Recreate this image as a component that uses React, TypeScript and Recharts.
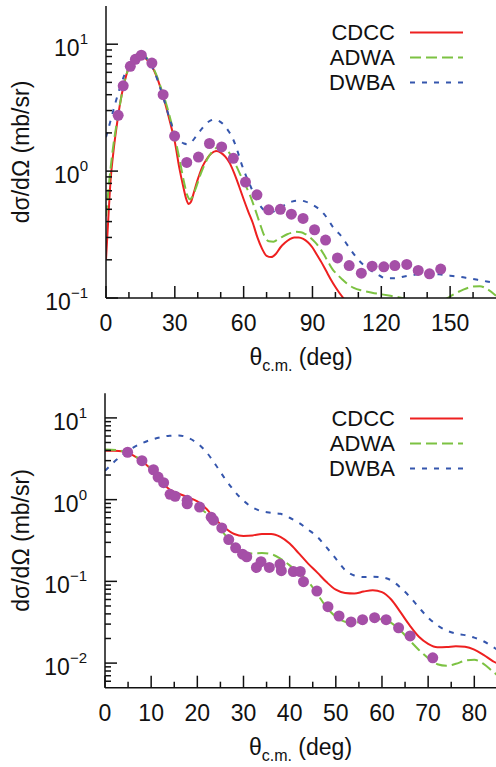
import React from "react";
import { ComposedChart, Line, Scatter, XAxis, YAxis, Legend } from "recharts";

// ---------- data ----------
const seriesNames = ["CDCC", "ADWA", "DWBA"];
const seriesColors = ["#ee2020", "#7cc242", "#3556ad"];
const seriesDash = ["", "11 5", "5 7"];

const topXTicks = [0, 10, 20, 30, 40, 50, 60, 70, 80, 90, 100, 110, 120, 130, 140, 150, 160];
const topXMajor = [0, 30, 60, 90, 120, 150];
const botXTicks = [0, 5, 10, 15, 20, 25, 30, 35, 40, 45, 50, 55, 60, 65, 70, 75, 80];
const botXMajor = [0, 10, 20, 30, 40, 50, 60, 70, 80];
const topYTicks = [0.1, 0.2, 0.3, 0.4, 0.5, 0.6, 0.7, 0.8, 0.9, 1, 2, 3, 4, 5, 6, 7, 8, 9, 10];
const botYTicks = [0.006, 0.007, 0.008, 0.009, 0.01, 0.02, 0.03, 0.04, 0.05, 0.06, 0.07, 0.08, 0.09, 0.1, 0.2, 0.3, 0.4, 0.5, 0.6, 0.7, 0.8, 0.9, 1, 2, 3, 4, 5, 6, 7, 8, 9, 10];

const topExpt = [
  [5.3, 2.75], [7.5, 4.7], [10.6, 6.7], [12.8, 7.6], [15.4, 8.2], [20, 7.1], [24.9, 4.0], [29.9, 1.89],
  [35.2, 1.17], [40.3, 1.29], [45.1, 1.65], [50.4, 1.55], [55.5, 1.26], [60.8, 0.82], [65.8, 0.65],
  [70.9, 0.495], [76, 0.5], [80.8, 0.458], [85.9, 0.424], [90.9, 0.345], [95.7, 0.286], [100.9, 0.207],
  [106, 0.18], [111.3, 0.157], [116, 0.178], [121.1, 0.176], [125.9, 0.18], [131.1, 0.184], [136.1, 0.165],
  [141, 0.155], [145.9, 0.169],
];

const topCDCC = [
  [0, 0.2], [1, 0.42], [2, 0.85], [3, 1.3], [4, 1.85], [5, 2.5], [6, 3.3], [8, 5.0], [10, 6.6], [12, 7.7],
  [14, 8.3], [16, 8.1], [18, 7.5], [20, 6.7], [22, 5.6], [24, 4.4], [26, 3.3], [28, 2.4], [30, 1.7],
  [32, 1.05], [33.5, 0.78], [35, 0.6], [36, 0.55], [37, 0.57], [38, 0.65], [40, 0.86], [42, 1.08],
  [44, 1.25], [46, 1.38], [48, 1.44], [50, 1.4], [52, 1.3], [54, 1.15], [56, 0.95], [58, 0.76], [60, 0.6],
  [62, 0.48], [64, 0.39], [66, 0.3], [68, 0.245], [70, 0.215], [72, 0.21], [74, 0.222], [76, 0.25],
  [78, 0.272], [80, 0.29], [82, 0.3], [84, 0.3], [86, 0.292], [88, 0.275], [90, 0.25], [92, 0.218],
  [94, 0.19], [96, 0.163], [98, 0.14], [100, 0.122], [102, 0.108], [104, 0.097], [106, 0.087],
];

const topADWA = [
  [0, 0.44], [1, 0.7], [2, 1.05], [3, 1.5], [4, 2.0], [5, 2.6], [6, 3.3], [8, 5.0], [10, 6.6], [12, 7.8],
  [14, 8.4], [16, 8.3], [18, 7.7], [20, 6.8], [22, 5.7], [24, 4.5], [26, 3.5], [28, 2.6], [30, 1.85],
  [32, 1.25], [34, 0.82], [35.5, 0.64], [36.5, 0.6], [37.5, 0.62], [39, 0.72], [41, 0.92], [43, 1.13],
  [45, 1.32], [47, 1.47], [49, 1.55], [51, 1.55], [53, 1.45], [55, 1.28], [57, 1.08], [59, 0.9],
  [61, 0.76], [63, 0.63], [65, 0.5], [67, 0.39], [69, 0.31], [71, 0.28], [73, 0.278], [75, 0.29],
  [77, 0.305], [79, 0.318], [81, 0.327], [83, 0.332], [85, 0.33], [87, 0.318], [89, 0.3], [91, 0.277],
  [93, 0.25], [95, 0.22], [97, 0.19], [99, 0.166], [101, 0.152], [103, 0.14], [105, 0.13], [108, 0.12],
  [112, 0.114], [116, 0.11], [120, 0.107], [124, 0.104], [128, 0.101], [132, 0.097], [136, 0.093],
  [140, 0.09], [144, 0.091], [148, 0.098], [152, 0.108], [156, 0.117], [160, 0.123], [163, 0.124],
  [166, 0.118], [170, 0.104],
];

const topDWBA = [
  [0, 1.85], [2, 2.5], [4, 3.4], [6, 4.5], [8, 5.7], [10, 6.9], [12, 7.8], [14, 8.3], [16, 8.2], [18, 7.6],
  [20, 6.7], [22, 5.5], [24, 4.3], [26, 3.3], [28, 2.5], [30, 2.0], [32, 1.75], [34, 1.65], [35.5, 1.63],
  [37, 1.68], [39, 1.85], [41, 2.07], [43, 2.3], [45, 2.47], [47, 2.55], [49, 2.5], [51, 2.35], [53, 2.12],
  [55, 1.85], [57, 1.5], [59, 1.15], [61, 0.92], [63, 0.76], [65, 0.63], [67, 0.54], [69, 0.49], [71, 0.47],
  [73, 0.48], [75, 0.5], [77, 0.53], [79, 0.555], [81, 0.575], [83, 0.585], [85, 0.585], [87, 0.575],
  [89, 0.555], [91, 0.53], [93, 0.5], [95, 0.46], [97, 0.41], [99, 0.36], [101, 0.33], [103, 0.3],
  [105, 0.265], [107, 0.235], [110, 0.2], [114, 0.172], [118, 0.155], [122, 0.143], [126, 0.143],
  [130, 0.148], [134, 0.152], [138, 0.155], [142, 0.155], [146, 0.153], [150, 0.15], [154, 0.147],
  [158, 0.143], [162, 0.139], [166, 0.135], [170, 0.131],
];

const botExpt = [
  [4.9, 3.8], [8, 3.0], [10.5, 2.32], [11.5, 1.89], [12.7, 1.61], [14.1, 1.16], [15.2, 1.1], [17.8, 0.98],
  [17.8, 0.89], [20.5, 0.81], [23, 0.61], [23.5, 0.56], [25.3, 0.45], [26.8, 0.325], [28.3, 0.257],
  [29.8, 0.215], [30.7, 0.2], [32.8, 0.148], [33.8, 0.174], [35.6, 0.148], [37.9, 0.162], [38.2, 0.135],
  [40.8, 0.132], [42.3, 0.132], [43, 0.099], [45.9, 0.076], [48.3, 0.049], [50.7, 0.0377], [53.3, 0.0319],
  [55.8, 0.034], [58.4, 0.036], [60.9, 0.034], [63.6, 0.027], [66.1, 0.0215], [71, 0.0116],
];

const botCDCC = [
  [0, 3.95], [2, 3.95], [4, 3.88], [6, 3.5], [8, 2.95], [10, 2.35], [12, 1.72], [14, 1.33], [16, 1.18],
  [18, 1.07], [20, 0.95], [22, 0.77], [24, 0.57], [26, 0.45], [28, 0.38], [30, 0.36], [32, 0.365],
  [34, 0.38], [36, 0.38], [38, 0.35], [40, 0.29], [42, 0.22], [44, 0.165], [46, 0.128], [48, 0.098],
  [50, 0.079], [52, 0.072], [54, 0.071], [56, 0.075], [58, 0.078], [60, 0.074], [62, 0.06], [64, 0.042],
  [66, 0.029], [68, 0.021], [70, 0.0172], [72, 0.0156], [74, 0.0157], [76, 0.0161], [78, 0.0158],
  [80, 0.0146], [82, 0.0126], [84, 0.0106], [85, 0.0099],
];

const botADWA = [
  [0, 4.1], [3, 4.0], [5, 3.7], [8, 3.0], [10, 2.38], [12, 1.72], [14, 1.27], [16, 1.06], [18, 0.93],
  [20, 0.82], [22, 0.68], [24, 0.52], [26, 0.37], [28, 0.265], [30, 0.228], [32, 0.22], [34, 0.222],
  [36, 0.215], [38, 0.19], [40, 0.157], [42, 0.127], [44, 0.1], [46, 0.07], [48, 0.048], [50, 0.037],
  [52, 0.032], [54, 0.031], [56, 0.033], [58, 0.0347], [60, 0.0345], [62, 0.031], [64, 0.025], [66, 0.019],
  [68, 0.0145], [70, 0.0115], [72, 0.0097], [74, 0.0093], [76, 0.0098], [78, 0.0107], [80, 0.011],
  [82, 0.0098], [84, 0.0079], [85, 0.0071],
];

const botDWBA = [
  [0, 2.25], [2, 2.9], [4, 3.6], [6, 4.3], [8, 4.9], [10, 5.4], [12, 5.8], [14, 6.05], [16, 6.1], [18, 5.7],
  [20, 4.9], [22, 3.8], [24, 2.65], [26, 1.8], [28, 1.28], [30, 0.97], [32, 0.8], [34, 0.72], [36, 0.69],
  [38, 0.67], [40, 0.6], [42, 0.52], [44, 0.43], [46, 0.35], [48, 0.26], [50, 0.19], [52, 0.138],
  [54, 0.118], [56, 0.113], [58, 0.114], [60, 0.112], [62, 0.103], [64, 0.084], [66, 0.065], [68, 0.048],
  [70, 0.036], [72, 0.029], [74, 0.025], [76, 0.023], [78, 0.022], [80, 0.0205], [82, 0.0185],
  [84, 0.0158], [85, 0.0146],
];

// ---------- helpers ----------
const FONT = '"Liberation Sans", Arial, Helvetica, sans-serif';
const INK = "#111";
const toObjs = (arr: number[][]) => arr.map(([x, y]) => ({ x, y }));

const isMajorLog = (v: number) => Math.abs(Math.log10(v) - Math.round(Math.log10(v))) < 1e-6;

const makeXTick = (majors: number[], top: boolean) => (props: any) => {
  const { x, y, payload } = props;
  const v = payload.value;
  const major = majors.includes(v);
  const len = major ? 12 : 6;
  return (
    <g>
      <line x1={x} x2={x} y1={y} y2={top ? y + len : y - len} stroke={INK} strokeWidth={1.5} />
      {!top && major && (
        <text x={x} y={y + 33} textAnchor="middle" fontSize={23} fontFamily={FONT} fill={INK}>
          {v}
        </text>
      )}
    </g>
  );
};

const makeYTick = (right: boolean) => (props: any) => {
  const { x, y, payload } = props;
  const v = payload.value;
  const major = isMajorLog(v);
  const len = major ? 12 : 6;
  const e = Math.round(Math.log10(v));
  const sup = e < 0 ? "\u2212" + Math.abs(e) : String(e);
  return (
    <g>
      <line x1={x} x2={right ? x - len : x + len} y1={y} y2={y} stroke={INK} strokeWidth={1.5} />
      {!right && major && (
        <text x={x - 18} y={y + 12} textAnchor="end" fontFamily={FONT} fill={INK}>
          <tspan fontSize={23}>10</tspan>
          <tspan fontSize={15} dy={-12}>{sup}</tspan>
        </text>
      )}
    </g>
  );
};

const XTitle = (props: any) => {
  const vb = props.viewBox || {};
  const cx = (vb.x ?? 0) + (vb.width ?? 0) / 2;
  const y = (vb.y ?? 0) + 67;
  return (
    <text x={cx} y={y} textAnchor="middle" fontFamily={FONT} fill={INK}>
      <tspan fontSize={23}>θ</tspan>
      <tspan fontSize={16} dy={6}>c.m.</tspan>
      <tspan fontSize={23} dy={-6}> (deg)</tspan>
    </text>
  );
};

const YTitle = (props: any) => {
  const vb = props.viewBox || {};
  const cy = (vb.y ?? 0) + (vb.height ?? 0) / 2;
  const x = 21;
  return (
    <text
      x={x}
      y={cy}
      transform={`rotate(-90 ${x} ${cy})`}
      textAnchor="middle"
      dominantBaseline="central"
      fontSize={23}
      fontFamily={FONT}
      fill={INK}
    >
      dσ/dΩ (mb/sr)
    </text>
  );
};

const makeLegend = (rowY: number[]) => () => (
  <svg width={496} height={110} style={{ display: "block" }}>
    {seriesNames.map((n, i) => (
      <g key={n}>
        <text x={395} y={rowY[i]} textAnchor="end" dominantBaseline="central" fontSize={22} fontFamily={FONT} fill={INK}>
          {n}
        </text>
        <line x1={410} x2={463} y1={rowY[i]} y2={rowY[i]} stroke={seriesColors[i]} strokeWidth={2} strokeDasharray={seriesDash[i] || undefined} />
      </g>
    ))}
  </svg>
);

const Dot = (p: any) => <circle cx={p.cx} cy={p.cy} r={5.5} fill="#a54fa7" />;

type PanelProps = {
  width: number;
  height: number;
  margin: { top: number; right: number; bottom: number; left: number };
  yAxisWidth: number;
  xAxisHeight: number;
  xDomain: [number, number];
  yDomain: [number, number];
  xTicks: number[];
  xMajor: number[];
  yTicks: number[];
  curves: number[][][];
  expt: number[][];
  legendRows: number[];
};

const Panel = (p: PanelProps) => (
  <ComposedChart width={p.width} height={p.height} margin={p.margin}>
    <XAxis
      xAxisId={0}
      dataKey="x"
      type="number"
      domain={p.xDomain}
      allowDataOverflow
      ticks={p.xTicks}
      interval={0}
      tickSize={0}
      tickMargin={0}
      tickLine={false}
      height={p.xAxisHeight}
      axisLine={{ stroke: INK, strokeWidth: 1.5 }}
      tick={makeXTick(p.xMajor, false)}
      label={<XTitle />}
    />
    <XAxis
      xAxisId="top"
      orientation="top"
      type="number"
      domain={p.xDomain}
      allowDataOverflow
      ticks={p.xTicks}
      interval={0}
      tickSize={0}
      tickMargin={0}
      tickLine={false}
      height={0}
      axisLine={{ stroke: INK, strokeWidth: 1.5 }}
      tick={makeXTick(p.xMajor, true)}
    />
    <YAxis
      yAxisId={0}
      type="number"
      scale="log"
      domain={p.yDomain}
      allowDataOverflow
      ticks={p.yTicks}
      interval={0}
      tickSize={0}
      tickMargin={0}
      tickLine={false}
      width={p.yAxisWidth}
      axisLine={{ stroke: INK, strokeWidth: 1.5 }}
      tick={makeYTick(false)}
      label={<YTitle />}
    />
    <YAxis
      yAxisId="right"
      orientation="right"
      type="number"
      scale="log"
      domain={p.yDomain}
      allowDataOverflow
      ticks={p.yTicks}
      interval={0}
      tickSize={0}
      tickMargin={0}
      tickLine={false}
      width={0}
      axisLine={{ stroke: INK, strokeWidth: 1.5 }}
      tick={makeYTick(true)}
    />
    {p.curves.map((c, i) => (
      <Line
        key={seriesNames[i]}
        data={toObjs(c)}
        dataKey="y"
        name={seriesNames[i]}
        type="monotone"
        stroke={seriesColors[i]}
        strokeWidth={2}
        strokeDasharray={seriesDash[i] || undefined}
        dot={false}
        activeDot={false}
        isAnimationActive={false}
      />
    ))}
    <Scatter data={toObjs(p.expt)} dataKey="y" name="expt" shape={Dot} isAnimationActive={false} />
    <Legend
      layout="vertical"
      align="center"
      verticalAlign="middle"
      content={makeLegend(p.legendRows)}
      wrapperStyle={{ position: "absolute", left: 0, top: 0, width: 496, height: 110 }}
    />
  </ComposedChart>
);

export default function App() {
  return (
    <div
      style={{
        position: "absolute",
        left: 0,
        top: 0,
        width: 496,
        height: 767,
        overflow: "hidden",
        background: "#fff",
        fontFamily: FONT,
      }}
    >
      <div style={{ position: "absolute", left: 0, top: 0 }}>
        <Panel
          width={496}
          height={380}
          margin={{ top: 6, right: 0, bottom: 0, left: 0 }}
          yAxisWidth={106}
          xAxisHeight={82}
          xDomain={[0, 170]}
          yDomain={[0.1, 20]}
          xTicks={topXTicks}
          xMajor={topXMajor}
          yTicks={topYTicks}
          curves={[topCDCC, topADWA, topDWBA]}
          expt={topExpt}
          legendRows={[32.5, 57.5, 82.5]}
        />
      </div>
      <div style={{ position: "absolute", left: 0, top: 380 }}>
        <Panel
          width={496}
          height={387}
          margin={{ top: 13.3, right: 0, bottom: 0, left: 0 }}
          yAxisWidth={105}
          xAxisHeight={79.3}
          xDomain={[0, 84.7]}
          yDomain={[0.005, 20]}
          xTicks={botXTicks}
          xMajor={botXMajor}
          yTicks={botYTicks}
          curves={[botCDCC, botADWA, botDWBA]}
          expt={botExpt}
          legendRows={[38.5, 63.5, 88.5]}
        />
      </div>
    </div>
  );
}
